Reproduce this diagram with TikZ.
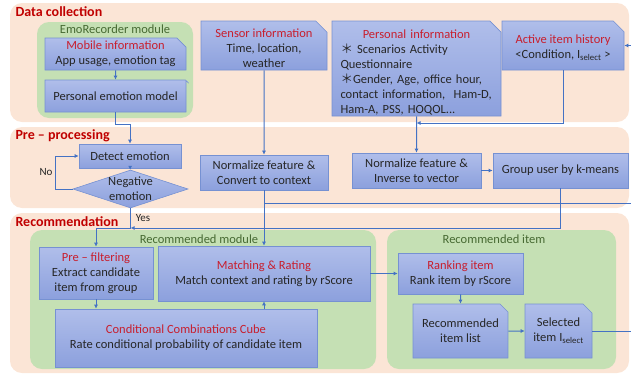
\documentclass[tikz,border=0pt]{standalone}
\usepackage{fontspec}
\setmainfont{Carlito}
\newfontfamily\cjk{Noto Sans CJK SC}
\usetikzlibrary{arrows.meta,shapes.misc,shapes.geometric}

\definecolor{panelbg}{RGB}{251,229,214}
\definecolor{modbg}{RGB}{197,224,180}
\definecolor{boxtop}{RGB}{176,190,234}
\definecolor{boxbot}{RGB}{140,160,221}
\definecolor{boxline}{RGB}{118,145,210}
\definecolor{flow}{RGB}{68,114,196}
\definecolor{hdred}{RGB}{192,0,0}
\definecolor{boxred}{RGB}{200,30,45}
\definecolor{modgreen}{RGB}{70,105,50}
\definecolor{txt}{RGB}{38,38,38}

\begin{document}
\begin{tikzpicture}[x=1pt, y=-1pt, every node/.style={font=\fontsize{12.5}{15}\selectfont, text=txt}, >={Latex[length=4pt,width=4pt]},
	panel/.style={fill=panelbg, rounded corners=12pt},
	module/.style={fill=modbg, rounded corners=12pt},
	section/.style={anchor=west, text=hdred, font=\fontsize{14}{16}\selectfont\bfseries},
	modtitle/.style={text=modgreen},
	procbox/.style={draw=boxline, line width=0.6pt, top color=boxtop, bottom color=boxbot, align=center, inner sep=1pt},
	docbox/.style={procbox, chamfered rectangle, chamfered rectangle corners=north east, chamfered rectangle xsep=8pt, inner ysep=-7pt},
	flowline/.style={draw=flow, line width=1pt},
	small/.style={font=\fontsize{11}{13}\selectfont}]
	\useasboundingbox (0,0) rectangle (631,375);
	\clip (0,0) rectangle (631,375);
	% background panels
	\fill[panel] (10,3) rectangle (629,122);
	\fill[panel] (10,127) rectangle (629,208);
	\fill[panel] (10,213) rectangle (629,373);
	\fill[module] (37,22) rectangle (193,118);
	\fill[module] (30,230) rectangle (376,369);
	\fill[module] (387,230) rectangle (616,369);
	\node[section] (hdcollect) at (12,12) {Data collection};
	\node[section] (hdpre) at (12,136) {Pre -- processing};
	\node[section] (hdrec) at (12,222) {Recommendation};
	\node[modtitle] (ttemo) at (115,29) {EmoRecorder module};
	\node[modtitle] (ttrecmod) at (199,239) {Recommended module};
	\node[modtitle] (ttrecitem) at (494,239) {Recommended item};
	% data collection
	\node[docbox, minimum width=141pt, minimum height=32pt] (mobile) at (115.5,54) {{\color{boxred}Mobile information}\\App usage, emotion tag};
	\node[docbox, minimum width=141pt, minimum height=32pt] (emomodel) at (115.5,96) {Personal emotion model};
	\node[docbox, minimum width=126pt, minimum height=49pt, inner ysep=-8pt] (sensor) at (264,45.5) {\rule{0pt}{14pt}{\color{boxred}Sensor information}\\Time, location,\\weather};
	\node[docbox, minimum width=169pt, minimum height=95pt, text width=152pt, align=left, inner xsep=0pt, inner ysep=-9pt] (personal) at (416.5,68.5) {\rule{0pt}{17pt}\makebox[\linewidth]{\color{boxred}Personal information}\\{\cjk ＊} Scenarios Activity\\Questionnaire\\{\cjk ＊}Gender, Age, office hour,\\contact information,\ \ Ham-D,\\Ham-A, PSS, HOQOL...};
	\node[docbox, minimum width=122pt, minimum height=49pt, inner ysep=-8pt] (history) at (563,45.5) {\rule{0pt}{14pt}{\color{boxred}Active item history}\\<Condition, I\textsubscript{select} >};
	% pre-processing
	\node[procbox, minimum width=102pt, minimum height=24pt] (detect) at (130,156) {Detect emotion};
	\node[procbox, diamond, minimum width=115pt, minimum height=38pt, inner sep=0pt, label={[align=center]center:Negative\\emotion}] (negemo) at (130.5,189) {};
	\node[procbox, minimum width=128pt, minimum height=35pt] (context) at (264,172.5) {Normalize feature \&\\Convert to context};
	\node[procbox, minimum width=129pt, minimum height=35pt] (inverse) at (416.5,170.5) {Normalize feature \&\\Inverse to vector};
	\node[procbox, minimum width=135pt, minimum height=35pt] (groupuser) at (560.5,170.5) {Group user by k-means};
	\node[small] (nolbl) at (46,172) {No};
	\node[small] (yeslbl) at (143,218) {Yes};
	% recommendation
	\node[procbox, minimum width=114pt, minimum height=52pt] (prefilter) at (96,273) {{\color{boxred}Pre -- filtering}\\Extract candidate\\item from group};
	\node[procbox, minimum width=212pt, minimum height=55pt] (matching) at (264,273.5) {{\color{boxred}Matching \& Rating}\\Match context and rating by rScore};
	\node[procbox, minimum width=262pt, minimum height=58pt] (cube) at (186,338) {{\color{boxred}Conditional Combinations Cube}\\Rate conditional probability of candidate item};
	\node[procbox, minimum width=125pt, minimum height=41pt] (ranking) at (460.5,273.5) {{\color{boxred}Ranking item}\\Rank item by rScore};
	\node[docbox, minimum width=95pt, minimum height=54pt] (reclist) at (460.5,331) {Recommended\\item list};
	\node[docbox, minimum width=67pt, minimum height=54pt, inner xsep=-3pt] (selected) at (558.5,331) {Selected\\item I\textsubscript{select}};
	% joints
	\coordinate (histjoin) at (416.5,123);
	\coordinate (yesturn) at (130.5,228);
	\coordinate (ctxsplit) at (264,203);
	\coordinate (ctxout) at (645,203);
	\coordinate (loopx) at (650,0);
	% connectors
	\draw[flowline, ->] (mobile) -- (emomodel);
	\draw[flowline, ->] (emomodel.south) -- ++(0,12) -| (detect.north);
	\draw[flowline, ->] (detect) -- (negemo);
	\draw[flowline, ->] (negemo.west) -- ++(-17,0) |- (detect.west);
	\draw[flowline, ->] (negemo.south) -- (yesturn) -| (prefilter.north);
	\draw[flowline, ->] (groupuser.south) |- (yesturn);
	\draw[flowline, ->] (sensor) -- (context);
	\draw[flowline, ->] (context) -- (matching);
	\draw[flowline] (ctxsplit) -- (ctxout);
	\draw[flowline, ->] (personal) -- (inverse);
	\draw[flowline, ->] (history.south) |- (histjoin);
	\draw[flowline, ->] (inverse) -- (groupuser);
	\draw[flowline, ->] (prefilter.south) -- (prefilter.south |- cube.north);
	\draw[flowline, ->] (cube.north -| matching.south) -- (matching.south);
	\draw[flowline, ->] (matching) -- (ranking);
	\draw[flowline, ->] (ranking) -- (reclist);
	\draw[flowline, ->] (reclist) -- (selected);
	\draw[flowline, ->] (selected.east) -- (selected.east -| loopx) -- (history.east -| loopx) -- (history.east);
\end{tikzpicture}
\end{document}
